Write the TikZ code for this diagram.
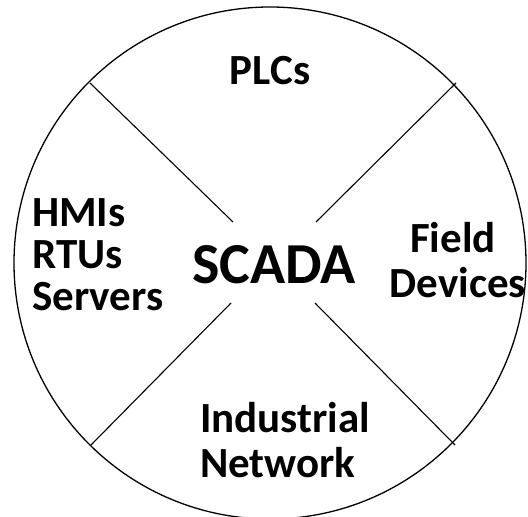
\documentclass[tikz,border=0pt]{standalone}
\usepackage{fontspec}
\setmainfont{Carlito}
\begin{document}
\begin{tikzpicture}[x=1pt,y=-1pt,
  lbl/.style={inner sep=0pt,font=\bfseries\fontsize{43}{45}\selectfont},
  big/.style={inner sep=0pt,font=\bfseries\fontsize{58}{60}\selectfont},
  divider/.style={line width=1.1pt},
  rim/.style={line width=1.3pt}]
  \clip (0,0) rectangle (528,517);
  \fill[white] (0,0) rectangle (528,517);

  % outer ring
  \draw[rim] (270,263) circle[radius=256];

  % centre label
  \node[big,anchor=base] (scada) at (274,283) {SCADA};

  % sector labels
  \node[lbl,anchor=base] (plc) at (270,84) {PLCs};
  \node[lbl,anchor=base west] (hmi) at (32,226) {HMIs};
  \node[lbl,anchor=base west] (rtu) at (32,268) {RTUs};
  \node[lbl,anchor=base west] (srv) at (32,310) {Servers};
  \node[lbl,anchor=base] (field) at (453,252) {Field};
  \node[lbl,anchor=base] (dev) at (458,297) {Devices};
  \node[lbl,anchor=base west] (ind) at (200,432) {Industrial};
  \node[lbl,anchor=base west] (net) at (200,477) {Network};

  % sector dividers
  \coordinate (ulin) at (233,222);
  \coordinate (ulout) at (90,83);
  \coordinate (urin) at (316,222);
  \coordinate (urout) at (456,83);
  \coordinate (llin) at (231,303);
  \coordinate (llout) at (91,445);
  \coordinate (lrin) at (315,303);
  \coordinate (lrout) at (455,445);
  \draw[divider] (ulin) -- (ulout);
  \draw[divider] (urin) -- (urout);
  \draw[divider] (llin) -- (llout);
  \draw[divider] (lrin) -- (lrout);
\end{tikzpicture}
\end{document}
